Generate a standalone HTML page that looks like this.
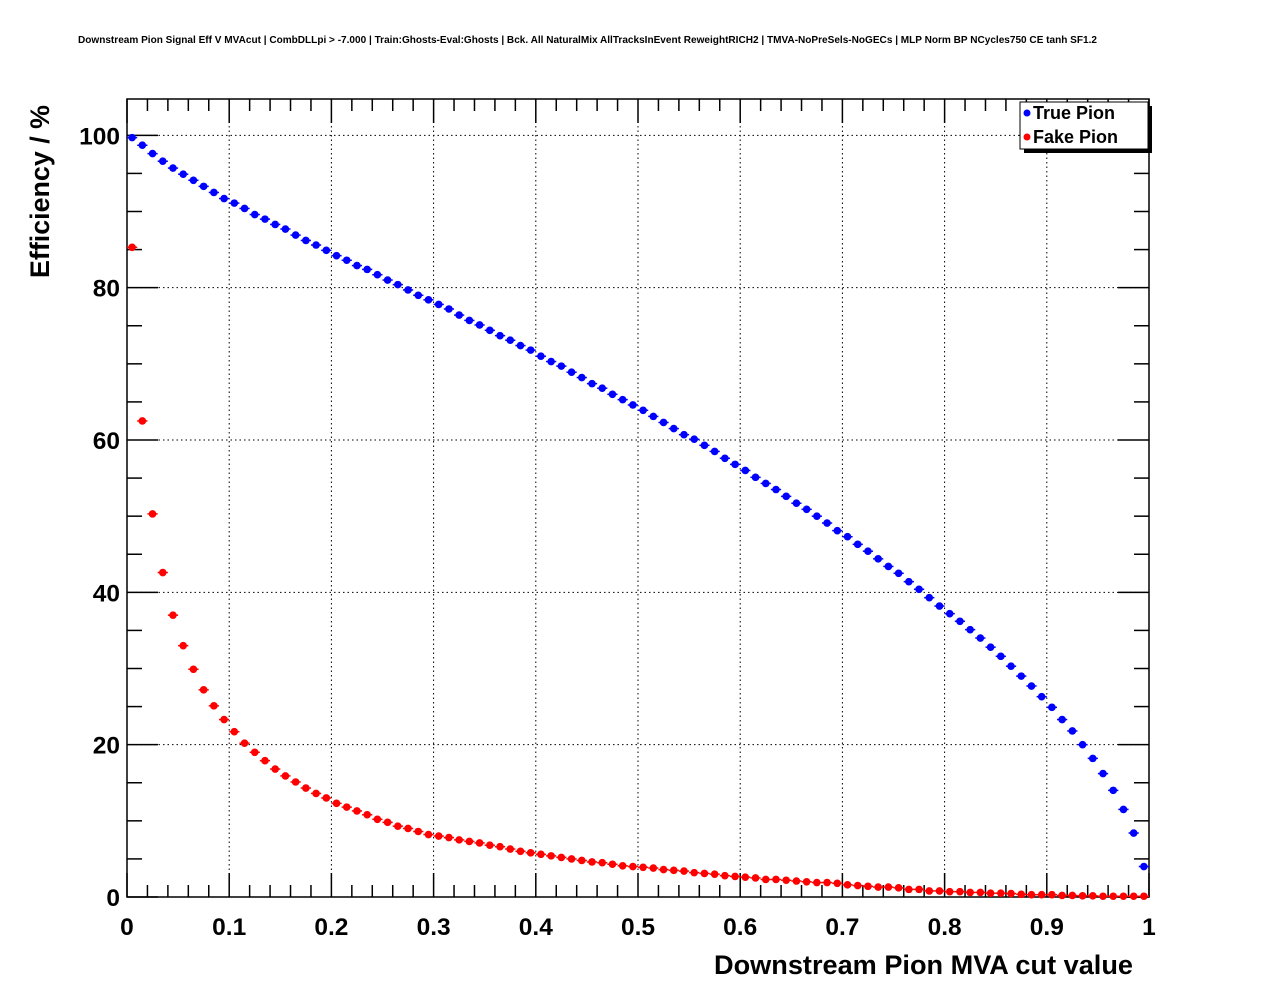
<!DOCTYPE html>
<html><head><meta charset="utf-8"><style>
body{margin:0;background:#fff;}
svg{display:block;font-family:"Liberation Sans",Arial,sans-serif;}
</style></head><body>
<svg id="chart" width="1276" height="996" xmlns="http://www.w3.org/2000/svg">
<text x="78" y="43" font-size="10" font-weight="bold" textLength="1019" lengthAdjust="spacingAndGlyphs">Downstream Pion Signal Eff V MVAcut | CombDLLpi &gt; -7.000 | Train:Ghosts-Eval:Ghosts | Bck. All NaturalMix AllTracksInEvent ReweightRICH2 | TMVA-NoPreSels-NoGECs | MLP Norm BP NCycles750 CE tanh SF1.2</text>
<g id="grid"></g>
<g id="ticks"></g>
<rect x="127" y="99" width="1022" height="798" fill="none" stroke="#000" stroke-width="1.5"/>
<g id="marks"></g>
<text transform="translate(49,278) rotate(-90)" font-size="27" font-weight="bold" textLength="173" lengthAdjust="spacingAndGlyphs">Efficiency / %</text>
<text x="1133" y="974" text-anchor="end" font-size="27" font-weight="bold" textLength="419" lengthAdjust="spacingAndGlyphs">Downstream Pion MVA cut value</text>
<g>
<rect x="1024" y="106" width="128" height="47" fill="#000"/>
<rect x="1020" y="102" width="128" height="47" fill="#fff" stroke="#000" stroke-width="1"/>
<circle cx="1027" cy="113" r="3.5" fill="#0000ff"/>
<text x="1033" y="119" font-size="18" font-weight="bold">True Pion</text>
<circle cx="1027" cy="137" r="3.5" fill="#ff0000"/>
<text x="1033" y="143" font-size="18" font-weight="bold">Fake Pion</text>
</g>
</svg>
<script>
const xCenters = Array.from({length:100},(_, i)=>(i+0.5)/100);
const truePion = [99.7,98.7,97.6,96.6,95.7,94.9,94.1,93.3,92.5,91.7,
91.1,90.4,89.6,89.0,88.3,87.7,86.9,86.2,85.6,84.9,
84.2,83.6,82.9,82.4,81.7,81.0,80.4,79.7,79.0,78.4,
77.8,77.2,76.4,75.7,75.1,74.4,73.7,73.1,72.4,71.8,
71.0,70.3,69.7,68.9,68.2,67.4,66.8,66.0,65.3,64.6,
63.9,63.1,62.3,61.5,60.7,60.1,59.3,58.5,57.6,56.8,
56.0,55.1,54.3,53.5,52.6,51.7,50.9,50.0,49.1,48.1,
47.3,46.3,45.4,44.4,43.4,42.5,41.4,40.4,39.3,38.2,
37.2,36.2,35.1,34.0,32.8,31.6,30.3,29.0,27.7,26.3,
24.9,23.3,21.8,20.0,18.2,16.2,14.0,11.5,8.4,4.0];
const fakePion = [85.3,62.5,50.3,42.6,37.0,33.0,29.9,27.2,25.1,23.3,
21.7,20.2,19.0,17.9,16.8,15.9,15.1,14.3,13.6,13.0,
12.3,11.8,11.3,10.8,10.2,9.8,9.3,9.0,8.6,8.2,
8.0,7.8,7.5,7.3,7.1,6.8,6.6,6.3,6.0,5.8,
5.6,5.4,5.2,5.0,4.8,4.6,4.5,4.3,4.1,4.0,
3.9,3.8,3.6,3.5,3.4,3.2,3.1,3.0,2.8,2.7,
2.6,2.5,2.3,2.3,2.2,2.1,2.0,1.9,1.9,1.8,
1.6,1.5,1.4,1.3,1.3,1.2,1.0,1.0,0.8,0.8,
0.7,0.7,0.6,0.6,0.5,0.5,0.45,0.35,0.3,0.3,
0.3,0.2,0.2,0.15,0.15,0.1,0.1,0.1,0.1,0.1];
const xTickLabels = ["0","0.1","0.2","0.3","0.4","0.5","0.6","0.7","0.8","0.9","1"];
const yTickLabels = ["0","20","40","60","80","100"];

const NS="http://www.w3.org/2000/svg";
const L=127,R=1149,T=99,B=897,YMAX=104.77;
const sx=v=>L+v*(R-L);
const sy=v=>B-v/YMAX*(B-T);
function mk(tag,attrs,parent){const e=document.createElementNS(NS,tag);for(const k in attrs)e.setAttribute(k,attrs[k]);parent.appendChild(e);return e;}
const grid=document.getElementById('grid'),ticks=document.getElementById('ticks'),marks=document.getElementById('marks'),svg=document.getElementById('chart');

xTickLabels.forEach((lab)=>{
  const v=parseFloat(lab),x=sx(v);
  if(v>0&&v<1){const g=mk('line',{x1:x,x2:x,y1:T,y2:B,stroke:'#000','stroke-width':1,'stroke-dasharray':'1.5,3'},grid);
  
  }
  const t=mk('text',{x:x,y:935,'text-anchor':'middle','font-size':24.5,'font-weight':'bold'},svg);
  t.textContent=lab;
  
  
});
yTickLabels.forEach((lab)=>{
  const v=parseFloat(lab),y=sy(v);
  if(v>0){const g=mk('line',{x1:L,x2:R,y1:y,y2:y,stroke:'#000','stroke-width':1,'stroke-dasharray':'1.5,3'},grid);
  
  }
  const t=mk('text',{x:120,y:y+9,'text-anchor':'end','font-size':24.5,'font-weight':'bold'},svg);
  t.textContent=lab;
  
  
});
for(let i=0;i<=50;i++){
  const v=i/50,x=sx(v),len=(i%5===0)?24:12;
  mk('line',{x1:x,x2:x,y1:B,y2:B-len,stroke:'#000','stroke-width':1.5},ticks);
  mk('line',{x1:x,x2:x,y1:T,y2:T+len,stroke:'#000','stroke-width':1.5},ticks);
}
for(let v=0;v<=YMAX;v+=5){
  const y=sy(v),len=(v%20===0)?31:15;
  mk('line',{x1:L,x2:L+len,y1:y,y2:y,stroke:'#000','stroke-width':1.5},ticks);
  mk('line',{x1:R,x2:R-len,y1:y,y2:y,stroke:'#000','stroke-width':1.5},ticks);
}
function drawSeries(vals,color,name){
  vals.forEach((v,i)=>{
    const x=sx(xCenters[i]),y=sy(v);
    const l=mk('line',{x1:sx(xCenters[i]-0.005),x2:sx(xCenters[i]+0.005),y1:y,y2:y,stroke:color,'stroke-width':1.5},marks);
    
    
    const c=mk('circle',{cx:x,cy:y,r:3.8,fill:color},marks);
    
    
  });
}
drawSeries(fakePion,'#ff0000','fake-pion');
drawSeries(truePion,'#0000ff','true-pion');
</script>
</body></html>
